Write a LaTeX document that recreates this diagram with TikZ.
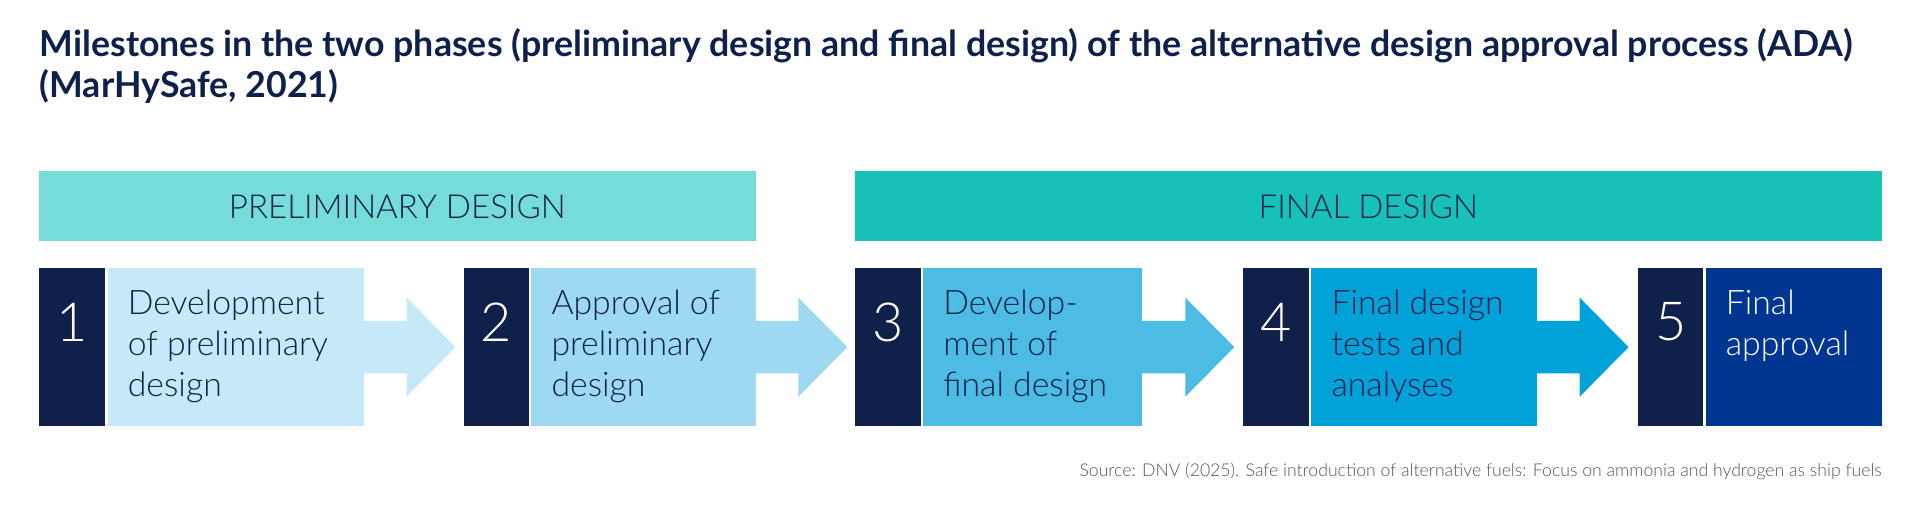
\documentclass[tikz,border=0pt]{standalone}
\usepackage{fontspec}
\setmainfont{Lato}
\newfontfamily\latolight{Lato Light}
\definecolor{navy}{HTML}{0F204B}
\definecolor{bandA}{HTML}{76DCD8}
\definecolor{bandB}{HTML}{17C1B7}
\definecolor{cA}{HTML}{C6E9F7}
\definecolor{cB}{HTML}{9DDAF1}
\definecolor{cC}{HTML}{4DBCE4}
\definecolor{cD}{HTML}{00A2D9}
\definecolor{cE}{HTML}{003591}
\definecolor{srcgray}{HTML}{555555}
\begin{document}
\begin{tikzpicture}[x=0.5pt,y=-0.5pt,
  numtxt/.style={font=\fontsize{22}{24}\selectfont\latolight,text=white},
  steptxt/.style={anchor=north west,align=left,inner sep=0pt,font=\fontsize{13.8}{16.8}\selectfont\latolight},
  bandtxt/.style={font=\fontsize{13.5}{15}\selectfont\latolight,text=navy},
]
\useasboundingbox (0,0) rectangle (1568,428);
\node[anchor=base west,inner sep=0pt,text=navy,align=left,font=\fontsize{14.6}{17}\selectfont\bfseries] (title) at (32,80)
 {Milestones in the two phases (preliminary design and final design) of the alternative design approval process (ADA)\\(MarHySafe, 2021)};
\fill[bandA] (32,140) rectangle (617,197);
\node[bandtxt] (pd) at (324.5,169) {PRELIMINARY DESIGN};
\fill[bandB] (698,140) rectangle (1537,197);
\node[bandtxt] (fd) at (1117.5,169) {FINAL DESIGN};
\newcommand\mystep[7]{%
  \fill[navy] (#1,219) rectangle (#2-2,348);
  \fill[#4] (#2,219) rectangle (#3,348);
  \node[numtxt] (n#5) at ({(#1+#2-2)/2},263) {#5};
  \node[steptxt,text=#7] (t#5) at (#2+16,236) {#6};
}
\newcommand\myarrow[4]{%
  \fill[#4] (#1,262) -- (#2,262) -- (#2,243) -- (#3,283.5) -- (#2,324) -- (#2,305) -- (#1,305) -- cycle;
}
\myarrow{296}{332}{372}{cA}
\myarrow{616}{652}{692}{cB}
\myarrow{932}{968}{1008}{cC}
\myarrow{1254}{1290}{1330}{cD}
\mystep{32}{88}{297}{cA}{1}{Development\\of preliminary\\design}{navy}
\mystep{379}{434}{617}{cB}{2}{Approval of\\preliminary\\design}{navy}
\mystep{698}{754}{933}{cC}{3}{Develop-\\ment of\\final design}{navy}
\mystep{1015}{1071}{1255}{cD}{4}{Final design\\tests and\\analyses}{navy}
\mystep{1338}{1393}{1537}{cE}{5}{Final\\approval}{white}
\node[anchor=base east,inner sep=0pt,text=srcgray,font=\fontsize{7.2}{8}\selectfont\latolight] (src) at (1537,389)
 {Source: DNV (2025). Safe introduction of alternative fuels: Focus on ammonia and hydrogen as ship fuels};
\end{tikzpicture}
\end{document}
